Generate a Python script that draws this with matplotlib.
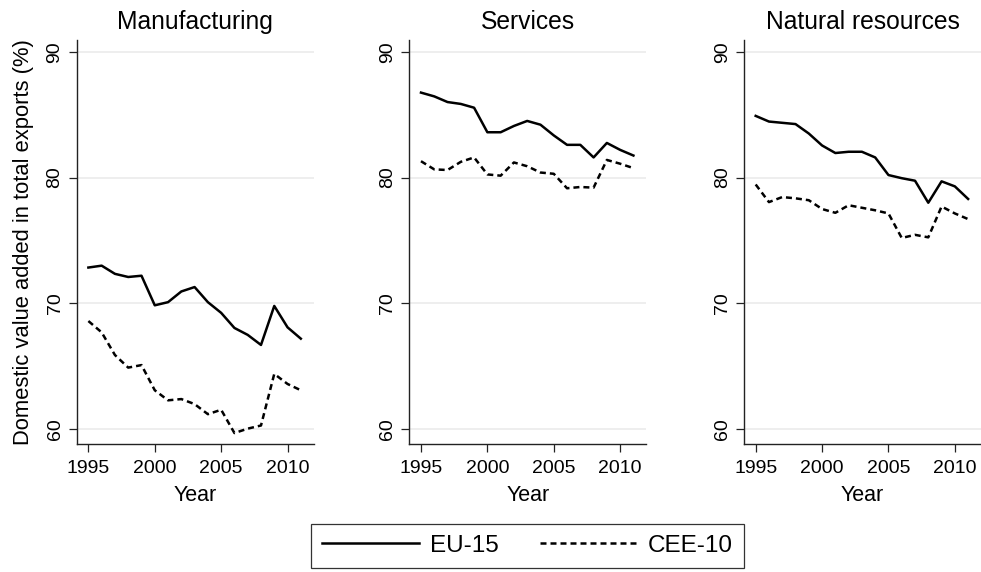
import matplotlib
matplotlib.use("Agg")
import matplotlib.pyplot as plt
from matplotlib.lines import Line2D

plt.rcParams['font.family'] = ['Liberation Sans', 'DejaVu Sans']

years = list(range(1995, 2012))

sectors = ["Manufacturing", "Services", "Natural resources"]

manuf_eu15 = [72.85, 73.0, 72.35, 72.1, 72.2, 69.85, 70.1, 70.95, 71.3, 70.1,
              69.25, 68.05, 67.5, 66.7, 69.8, 68.1, 67.2]
manuf_cee10 = [68.6, 67.7, 65.9, 64.9, 65.1, 63.1, 62.3, 62.4, 62.0, 61.2,
               61.55, 59.7, 60.05, 60.3, 64.4, 63.6, 63.1]

serv_eu15 = [86.75, 86.45, 86.0, 85.85, 85.55, 83.6, 83.6, 84.1, 84.5, 84.2,
             83.35, 82.6, 82.6, 81.6, 82.75, 82.2, 81.75]
serv_cee10 = [81.3, 80.65, 80.6, 81.25, 81.6, 80.25, 80.15, 81.2, 80.9, 80.4,
              80.3, 79.15, 79.25, 79.2, 81.4, 81.1, 80.75]

natres_eu15 = [84.9, 84.45, 84.35, 84.25, 83.5, 82.55, 81.95, 82.05, 82.05, 81.6,
               80.2, 79.95, 79.75, 78.0, 79.7, 79.3, 78.3]
natres_cee10 = [79.45, 78.05, 78.45, 78.35, 78.2, 77.5, 77.2, 77.8, 77.6, 77.4,
                77.15, 75.2, 75.45, 75.25, 77.7, 77.15, 76.7]

eu15 = [manuf_eu15, serv_eu15, natres_eu15]
cee10 = [manuf_cee10, serv_cee10, natres_cee10]

x_ticks = [1995, 2000, 2005, 2010]
y_ticks = [60, 70, 80, 90]

fig = plt.figure(figsize=(9.81, 5.72), dpi=100)

W, H = 981.0, 572.0
lefts = [76.7, 409.3, 744.0]
ax_width = 237.0
ax_top = 40.0
ax_bottom = 444.0

lw = 1.8
dash = (2.4, 1.6)

for i, name in enumerate(sectors):
    ax = fig.add_axes([lefts[i] / W, 1 - ax_bottom / H,
                       ax_width / W, (ax_bottom - ax_top) / H])
    ax.plot(years, eu15[i], color='black', lw=lw, solid_joinstyle='round')
    ax.plot(years, cee10[i], color='black', lw=lw, dashes=dash)

    ax.set_xlim(1994.12, 2011.97)
    ax.set_ylim(58.83, 90.93)
    ax.set_xticks(x_ticks)
    ax.set_yticks(y_ticks)
    ax.set_yticklabels([str(v) for v in y_ticks], rotation=90, va='center')
    ax.grid(axis='y', color='#e9e9e9', lw=1.1)
    ax.set_axisbelow(True)

    for side in ['top', 'right']:
        ax.spines[side].set_visible(False)
    for side in ['left', 'bottom']:
        ax.spines[side].set_linewidth(1.0)
        ax.spines[side].set_color('#222222')

    ax.tick_params(axis='both', labelsize=14, length=5.5, width=0.9,
                   color='#222222')
    ax.tick_params(axis='x', pad=6)
    ax.tick_params(axis='y', pad=4)
    ax.set_title(name, fontsize=17.7, pad=8)
    ax.set_xlabel("Year", fontsize=15.5, labelpad=6)

    if i == 0:
        ax.set_ylabel("Domestic value added in total exports (%)",
                      fontsize=15.8, labelpad=9)

handles = [Line2D([], [], color='black', lw=lw),
           Line2D([], [], color='black', lw=lw, dashes=dash)]
leg = fig.legend(handles, ["EU-15", "CEE-10"], ncol=2, loc='center',
                 bbox_to_anchor=(527.5 / W, 1 - 545.8 / H),
                 fontsize=17.5, frameon=True, fancybox=False,
                 edgecolor='black', handlelength=4.0, handletextpad=0.45,
                 columnspacing=1.7, borderpad=0.45, borderaxespad=0)
leg.get_frame().set_linewidth(0.9)

fig.savefig("out.png", dpi=100)
